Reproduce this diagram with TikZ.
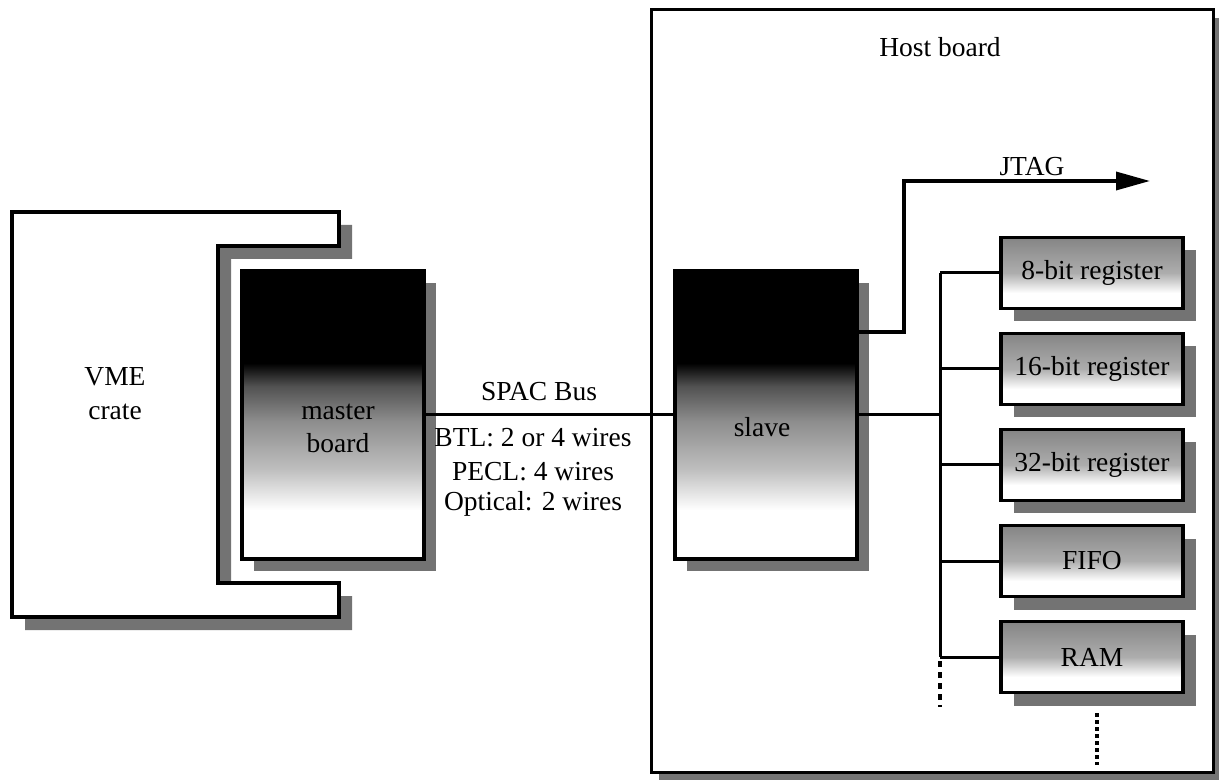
\documentclass[tikz,border=0pt]{standalone}
\usepackage{fontspec}
\setmainfont{Liberation Serif}
\usetikzlibrary{arrows.meta,shadows}
\pgfdeclareverticalshading{boardshade}{100bp}{color(0bp)=(white); color(33.5bp)=(white); color(40.5bp)=(black!25); color(49bp)=(black!45); color(55bp)=(black!68); color(59bp)=(black); color(100bp)=(black)}
\pgfdeclareverticalshading{regshade}{100bp}{color(0bp)=(white); color(36bp)=(white); color(50bp)=(black!32); color(75bp)=(black!48); color(100bp)=(black!48)}
\begin{document}
\begin{tikzpicture}[x=1pt,y=-1pt,
  every node/.style={font=\fontsize{27.5}{33}\selectfont, inner sep=0pt},
  shadowed/.style={drop shadow={shadow xshift=#1, shadow yshift=-#1, fill=black!55, opacity=1}},
  boardbox/.style={draw, line width=3.5pt, minimum width=182pt, minimum height=288pt, shade, shading=boardshade, shadowed=12pt},
  regbox/.style={draw, line width=3.5pt, minimum width=182pt, minimum height=71pt, shade, shading=regshade, shadowed=13pt},
  hostbox/.style={draw, line width=3pt, fill=white, minimum width=562pt, minimum height=762pt, shadowed=8pt},
  wire/.style={line width=3pt},
  shadowfill/.style={fill=black!55}
]
\useasboundingbox (0,0) rectangle (1219,783);

% Host board
\node[hostbox] (host) at (932,391) {};
\node (hostlbl) at (940,47) {Host board};

% VME crate
\begin{scope}[shift={(13,13)}]
  \fill[shadowfill] (12,212) -- (339,212) -- (339,246) -- (218,246) -- (218,583) -- (339,583) -- (339,617) -- (12,617) -- cycle;
\end{scope}
\draw[line width=4.5pt, fill=white] (12,212) -- (339,212) -- (339,246) -- (218,246) -- (218,583) -- (339,583) -- (339,617) -- (12,617) -- cycle;
\node (vme) at (115,377) {VME};
\node (crate) at (115,412) {crate};

% Master board
\node[boardbox] (master) at (333,415) {};
\node (m2) at (338,412) {master};
\node (m3) at (338,443) {board};

% Slave
\node[boardbox] (slave) at (766,415) {};
\node (s2) at (762,427) {slave};

% SPAC bus
\draw[wire] (master.east) -- (slave.west);
\node (buslbl) at (539,392) {SPAC Bus};
\node (btl) at (533,438) {BTL: 2 or 4 wires};
\node (pecl) at (533,472) {PECL: 4 wires};
\node (opt) at (533,504) {Optical: 2 wires};

% JTAG
\coordinate (jtagend) at (1150,181);
\draw[line width=3.5pt, -{Triangle[length=34pt,width=18pt]}] (slave.east |- 0,332) -| (904,181) -- (jtagend);
\node (jtaglbl) at (1032,167) {JTAG};

% Registers
\node[regbox] (r8) at (1092,273) {8-bit register};
\node[regbox] (r16) at (1092,369) {16-bit register};
\node[regbox] (r32) at (1092,465) {32-bit register};
\node[regbox] (fifo) at (1092,561) {FIFO};
\node[regbox] (ram) at (1092,657) {RAM};

% Internal bus
\coordinate (btop) at (940,273);
\coordinate (bbot) at (940,657);
\coordinate (bend) at (940,707);
\draw[wire] (btop) -- (bbot);
\draw[line width=3.5pt, dash pattern=on 6pt off 5pt] (bbot) ++(0,4) -- (bend);
\draw[wire] (slave.east) -- (slave.east -| btop);
\foreach \r in {r8,r16,r32,fifo,ram} \draw[wire] (\r.west -| btop) -- (\r.west);

% continuation dots
\coordinate (d1) at (1097,713);
\coordinate (d2) at (1097,765);
\draw[line width=3.5pt, dash pattern=on 4pt off 3pt] (d1) -- (d2);
\end{tikzpicture}
\end{document}
